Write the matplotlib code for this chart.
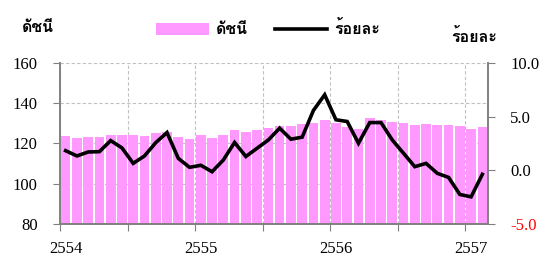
import matplotlib
matplotlib.use("Agg")
import matplotlib.pyplot as plt
from matplotlib import font_manager
from matplotlib.ft2font import FT2Font
from matplotlib.lines import Line2D
from matplotlib.patches import Patch

# ---- data ----
index_values = [123.7, 122.7, 123.1, 123.4, 124.1, 124.1, 124.1, 123.7, 125.1, 125.7, 123.1, 122.4,
                124.3, 122.7, 124.3, 126.7, 125.7, 126.7, 127.6, 128.6, 128.7, 129.7, 130.1, 131.6,
                130.4, 128.2, 127.2, 132.6, 131.7, 130.9, 130.1, 129.4, 129.7, 129.4, 129.4, 128.7,
                127.1, 128.1]
pct_change = [1.83, 1.34, 1.71, 1.74, 2.77, 2.09, 0.65, 1.34, 2.58, 3.52, 1.12, 0.28,
              0.47, -0.13, 0.96, 2.60, 1.29, 2.06, 2.83, 3.93, 2.90, 3.09, 5.58, 7.04,
              4.71, 4.55, 2.52, 4.45, 4.45, 2.83, 1.59, 0.34, 0.65, -0.28, -0.66, -2.25,
              -2.47, -0.37]
year_labels = ["2554", "2555", "2556", "2557"]
left_ticks = [80, 100, 120, 140, 160]
right_ticks = [-5.0, 0.0, 5.0, 10.0]
legend_bar = "ดัชนี"
legend_line = "ร้อยละ"

# ---- fonts: find one with Thai glyphs ----
thai_font = None
for f in font_manager.fontManager.ttflist:
    try:
        ft = FT2Font(f.fname)
        if 0x0E14 in ft.get_charmap():
            thai_font = f.name
            break
    except Exception:
        continue
thai_family = [thai_font, "DejaVu Sans"] if thai_font else ["DejaVu Sans"]
serif = "Liberation Serif"

fig = plt.figure(figsize=(5.43, 2.62), dpi=100)
ax = fig.add_axes([60/543, 38/262, 428/543, 161/262])
ax2 = ax.twinx()

n = len(index_values)
x = list(range(n))
gray = "#808080"

ax.bar(x, [v - 80 for v in index_values], bottom=80, width=0.86, color="#FF99FF", zorder=2)
ax.set_xlim(-0.5, n - 0.5)
ax.set_ylim(80, 160)
ax.set_yticks(left_ticks)
ax.set_yticklabels([str(t) for t in left_ticks], family=serif, fontsize=12)

# x: ticks every 6 months at boundaries, labels at January of each year
ax.set_xticks([i - 0.5 for i in range(0, n, 6)])
ax.set_xticklabels([])
ax.set_xticks([i for i in range(0, n, 12)], minor=True)
ax.set_xticklabels(year_labels, minor=True, family=serif, fontsize=12)
ax.tick_params(axis="x", which="major", direction="out", length=5, color=gray)
ax.tick_params(axis="x", which="minor", length=0, pad=12)
ax.tick_params(axis="y", direction="out", length=5, color=gray, pad=11)

ax.set_axisbelow(True)
ax.grid(True, which="major", color="#C0C0C0", linestyle=(0, (3, 2)), linewidth=0.8)

for s in ["top"]:
    ax.spines[s].set_visible(False)
    ax2.spines[s].set_visible(False)
for s in ["left", "bottom", "right"]:
    ax.spines[s].set_color(gray)
    ax2.spines[s].set_color(gray)
    ax.spines[s].set_linewidth(1.2)
    ax2.spines[s].set_linewidth(1.2)

ax2.plot(x, pct_change, color="black", linewidth=2.6, zorder=3, solid_joinstyle="miter")
ax2.set_ylim(-5, 10)
ax2.set_yticks(right_ticks)
ax2.set_yticklabels([f"{t:.1f}" for t in right_ticks], family=serif, fontsize=12)
ax2.get_yticklabels()[0].set_color("red")
ax2.tick_params(axis="y", direction="out", length=5, color=gray, pad=11)

# axis titles
fig.text(22/543, 1 - 28/262, "ดัชนี", family=thai_family, fontsize=11.5, fontweight="bold",
         ha="left", va="center")
fig.text(474/543, 1 - 37/262, "ร้อยละ", family=thai_family, fontsize=11.5, fontweight="bold",
         ha="center", va="center")

handles = [Patch(facecolor="#FF99FF", edgecolor="none"),
           Line2D([0], [0], color="black", linewidth=2.6)]
fig.legend(handles, [legend_bar, legend_line], loc="center", bbox_to_anchor=(268/543, 1 - 29/262),
           ncol=2, frameon=False, prop={"family": thai_family, "size": 11.5, "weight": "bold"},
           handlelength=3.3, handleheight=0.8, columnspacing=1.7, handletextpad=0.4)

fig.savefig("out.png", dpi=100)
